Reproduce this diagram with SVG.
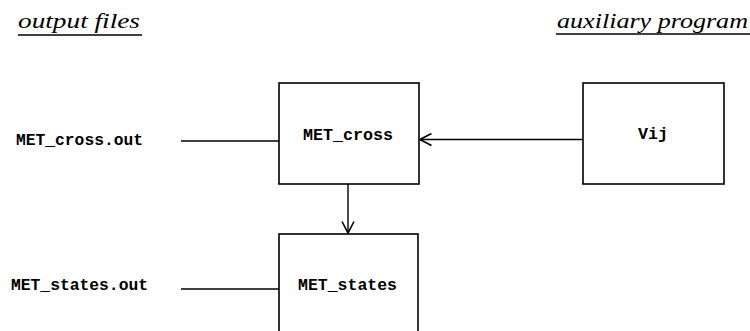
<svg xmlns="http://www.w3.org/2000/svg" width="750" height="331" viewBox="0 0 750 331">
  <style>
    .box { fill: #fff; stroke: #000; stroke-width: 1.6; }
    .edge { fill: none; stroke: #000; stroke-width: 1.4; }
    .mono { font-family: "Liberation Mono", "DejaVu Sans Mono", monospace; font-size: 16px; font-weight: bold; fill: #000; }
    .head { font-family: "Liberation Serif", "DejaVu Serif", serif; font-style: italic; font-size: 20px; fill: #000; }
    .rule { stroke: #000; stroke-width: 1.6; }
  </style>
  <defs>
    <!-- open chevron arrowhead -->
    <marker id="open" viewBox="0 0 14 14" refX="13" refY="7" markerWidth="14" markerHeight="14" markerUnits="userSpaceOnUse" orient="auto">
      <path d="M1.5,1 L13,7 L1.5,13" fill="none" stroke="#000" stroke-width="1.6"/>
    </marker>
  </defs>

  <rect width="750" height="331" fill="#fff"/>

  <!-- column headings -->
  <g id="heading-output">
    <text class="head" x="18" y="28" textLength="122" lengthAdjust="spacingAndGlyphs">output files</text>
    <line class="rule" x1="18" y1="35" x2="142" y2="35"/>
  </g>
  <g id="heading-aux">
    <text class="head" x="557" y="28" textLength="191" lengthAdjust="spacingAndGlyphs">auxiliary program</text>
    <line class="rule" x1="556" y1="34" x2="750" y2="34"/>
  </g>

  <!-- output file labels -->
  <g id="file-cross">
    <text class="mono" x="16" y="145" textLength="127" lengthAdjust="spacingAndGlyphs">MET_cross.out</text>
  </g>
  <g id="file-states">
    <text class="mono" x="11" y="290" textLength="137" lengthAdjust="spacingAndGlyphs">MET_states.out</text>
  </g>

  <!-- program boxes -->
  <g id="met-cross">
    <rect class="box" x="279" y="83" width="140" height="101"/>
    <text class="mono" x="303" y="140" textLength="90" lengthAdjust="spacingAndGlyphs">MET_cross</text>
  </g>
  <g id="vij">
    <rect class="box" x="583" y="83" width="141" height="101"/>
    <text class="mono" x="638" y="139" textLength="30" lengthAdjust="spacingAndGlyphs">Vij</text>
  </g>
  <g id="met-states">
    <rect class="box" x="279" y="234" width="139" height="110"/>
    <text class="mono" x="298" y="290" textLength="99" lengthAdjust="spacingAndGlyphs">MET_states</text>
  </g>

  <!-- connectors -->
  <g id="connectors">
    <line class="edge" x1="181" y1="141" x2="279" y2="141"/>
    <line class="edge" x1="181" y1="289" x2="279" y2="289"/>
    <line class="edge" x1="583" y1="139.5" x2="420" y2="139.5" marker-end="url(#open)"/>
    <line class="edge" x1="348" y1="184" x2="348" y2="233" marker-end="url(#open)"/>
  </g>
</svg>
